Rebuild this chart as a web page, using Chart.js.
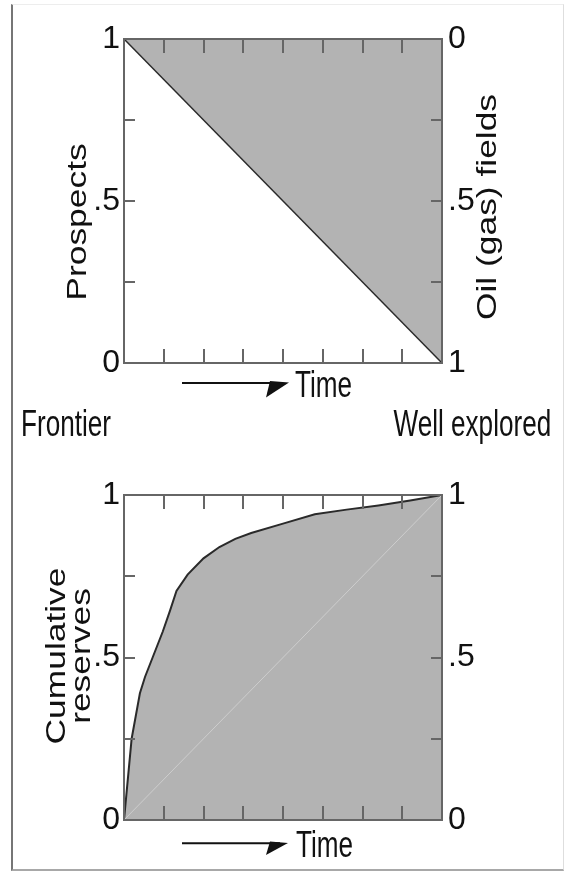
<!DOCTYPE html>
<html>
<head>
<meta charset="utf-8">
<script src="https://cdn.jsdelivr.net/npm/chart.js@4"></script>
<style>
  html, body { margin: 0; padding: 0; width: 564px; height: 873px; overflow: hidden; background: #fff; }
  #frame { position: absolute; left: 11px; top: 4px; width: 553px; height: 867px; box-sizing: border-box;
           border-left: 2px solid #767676; border-top: 1px solid #ededed; border-right: 1px solid #dedede; border-bottom: 2px solid #a8a8a8; }
  canvas { position: absolute; left: 0; }
  #c1 { top: 0; }
  #c2 { top: 440px; }
  .h { position: absolute; font-family: 'Liberation Sans', Arial, Helvetica, sans-serif; font-size: 29px; line-height: 29px;
       white-space: nowrap; color: #111; transform-origin: left top; transform: scale(0.9, 1.25); }
  .hr { transform-origin: right top; }
  .rot { position: absolute; font-family: 'Liberation Sans', Arial, Helvetica, sans-serif; font-size: 29px; line-height: 26px;
         white-space: nowrap; color: #111; text-align: center;
         transform: translate(-50%, -50%) rotate(-90deg) scale(1.22, 0.95); }
  svg { position: absolute; left: 0; top: 0; }
</style>
</head>
<body>
<div id="frame"></div>
<canvas id="c1" width="564" height="400"></canvas>
<canvas id="c2" width="564" height="433"></canvas>
<svg width="564" height="873">
  <line x1="182" y1="383" x2="281" y2="383" stroke="#111" stroke-width="2"/>
  <polygon points="289,382.5 270,381 266,397.5" fill="#111"/>
  <line x1="182" y1="843.3" x2="280" y2="843.3" stroke="#111" stroke-width="2"/>
  <polygon points="288,843 270,841.5 266,855" fill="#111"/>
</svg>
<div class="rot" style="left:76px; top:222px;">Prospects</div>
<div class="rot" style="left:486px; top:207px;">Oil (gas) fields</div>
<div class="rot" style="left:68px; top:656px;">Cumulative<br>reserves</div>
<div class="h" style="left:295px; top:367px;">Time</div>
<div class="h" style="left:296px; top:827px;">Time</div>
<div class="h" style="left:21px; top:406px;">Frontier</div>
<div class="h hr" style="right:13px; top:406px;">Well explored</div>
<script>
// ---- data ----
const prospectTime = [0, 1];
const prospects = [1, 0];

const reserveTime = [0, 0.024, 0.05, 0.066, 0.09, 0.122, 0.145, 0.165, 0.2, 0.25, 0.3, 0.35, 0.4, 0.5, 0.6, 0.7, 0.8, 0.9, 1];
const cumulativeReserves = [0, 0.25, 0.39, 0.44, 0.50, 0.58, 0.645, 0.705, 0.755, 0.805, 0.84, 0.865, 0.883, 0.912, 0.941, 0.955, 0.968, 0.983, 1];

const diagonalTime = [0, 1];
const diagonalValues = [0, 1];

// ---- ticks ----
const xTickValues = [0, 0.125, 0.25, 0.375, 0.5, 0.625, 0.75, 0.875, 1];
const yTickValues = [0, 0.25, 0.5, 0.75, 1];
const yLabelValues = [0, 0.5, 1];
const yLabelTexts = ['0', '.5', '1'];

const FONT = "'Liberation Sans', Arial, Helvetica, sans-serif";
const FILL = '#b3b3b3';
const AXIS = '#666666';

function toXY(xs, ys) { return xs.map((x, i) => ({ x: x, y: ys[i] })); }
function labelFor(v) {
  const i = yLabelValues.findIndex(l => Math.abs(l - v) < 1e-9);
  return i >= 0 ? yLabelTexts[i] : '';
}

const innerTicks = {
  id: 'innerTicks',
  afterDraw(chart) {
    const { ctx, chartArea: a, scales } = chart;
    ctx.save();
    ctx.strokeStyle = AXIS;
    ctx.lineWidth = 2;
    const seg = (x1, y1, x2, y2) => { ctx.beginPath(); ctx.moveTo(x1, y1); ctx.lineTo(x2, y2); ctx.stroke(); };
    scales.x.ticks.forEach(t => {
      const px = Math.round(scales.x.getPixelForValue(t.value));
      if (px <= a.left + 1 || px >= a.right - 1) return;
      seg(px, a.top, px, a.top + 14);
      seg(px, a.bottom, px, a.bottom - 14);
    });
    scales.y.ticks.forEach(t => {
      const py = Math.round(scales.y.getPixelForValue(t.value));
      if (py <= a.top + 1 || py >= a.bottom - 1) return;
      seg(a.left, py, a.left + 11, py);
    });
    scales.y1.ticks.forEach(t => {
      const py = Math.round(scales.y1.getPixelForValue(t.value));
      if (py <= a.top + 1 || py >= a.bottom - 1) return;
      seg(a.right, py, a.right - 11, py);
    });
    ctx.strokeRect(a.left, a.top, a.right - a.left, a.bottom - a.top);
    ctx.restore();
  }
};

function makeScales(canvasW, canvasH, plotRight, plotBottom, rightReverse) {
  const yScale = (pos, reverse, width, pad) => ({
    type: 'linear', position: pos, min: 0, max: 1, reverse: reverse,
    afterBuildTicks: s => { s.ticks = yTickValues.map(v => ({ value: v })); },
    afterFit: s => { s.width = width; },
    grid: { display: false, drawTicks: false },
    border: { display: false },
    ticks: { autoSkip: false, padding: pad, color: '#111', font: { family: FONT, size: 32 },
             callback: v => labelFor(v) }
  });
  return {
    x: {
      type: 'linear', position: 'bottom', min: 0, max: 1,
      afterBuildTicks: s => { s.ticks = xTickValues.map(v => ({ value: v })); },
      afterFit: s => { s.height = canvasH - plotBottom; },
      grid: { display: false, drawTicks: false },
      border: { display: false },
      ticks: { display: false }
    },
    y: yScale('left', false, 124, 4),
    y1: yScale('right', rightReverse, canvasW - plotRight, 6)
  };
}

const common = {
  responsive: false,
  animation: false,
  devicePixelRatio: 1,
  events: [],
  plugins: { legend: { display: false }, tooltip: { enabled: false } },
  elements: { point: { radius: 0 } }
};

new Chart(document.getElementById('c1'), {
  type: 'line',
  data: {
    datasets: [{
      label: 'Prospects',
      data: toXY(prospectTime, prospects),
      yAxisID: 'y',
      borderColor: '#2a2a2a', borderWidth: 1.5,
      backgroundColor: FILL, fill: 'end', tension: 0
    }]
  },
  options: Object.assign({}, common, {
    layout: { padding: { top: 39, left: 0, right: 0, bottom: 0 } },
    scales: makeScales(564, 400, 442, 363, true)
  }),
  plugins: [innerTicks]
});

new Chart(document.getElementById('c2'), {
  type: 'line',
  data: {
    datasets: [{
      label: 'Reference',
      data: toXY(diagonalTime, diagonalValues),
      yAxisID: 'y',
      borderColor: '#cdcdcd', borderWidth: 1, fill: false, order: 0
    }, {
      label: 'Cumulative reserves',
      data: toXY(reserveTime, cumulativeReserves),
      yAxisID: 'y',
      borderColor: '#2a2a2a', borderWidth: 2,
      backgroundColor: FILL, fill: 'origin', tension: 0, order: 1
    }]
  },
  options: Object.assign({}, common, {
    layout: { padding: { top: 55, left: 0, right: 0, bottom: 0 } },
    scales: makeScales(564, 433, 442, 380, false)
  }),
  plugins: [innerTicks]
});
</script>
</body>
</html>
